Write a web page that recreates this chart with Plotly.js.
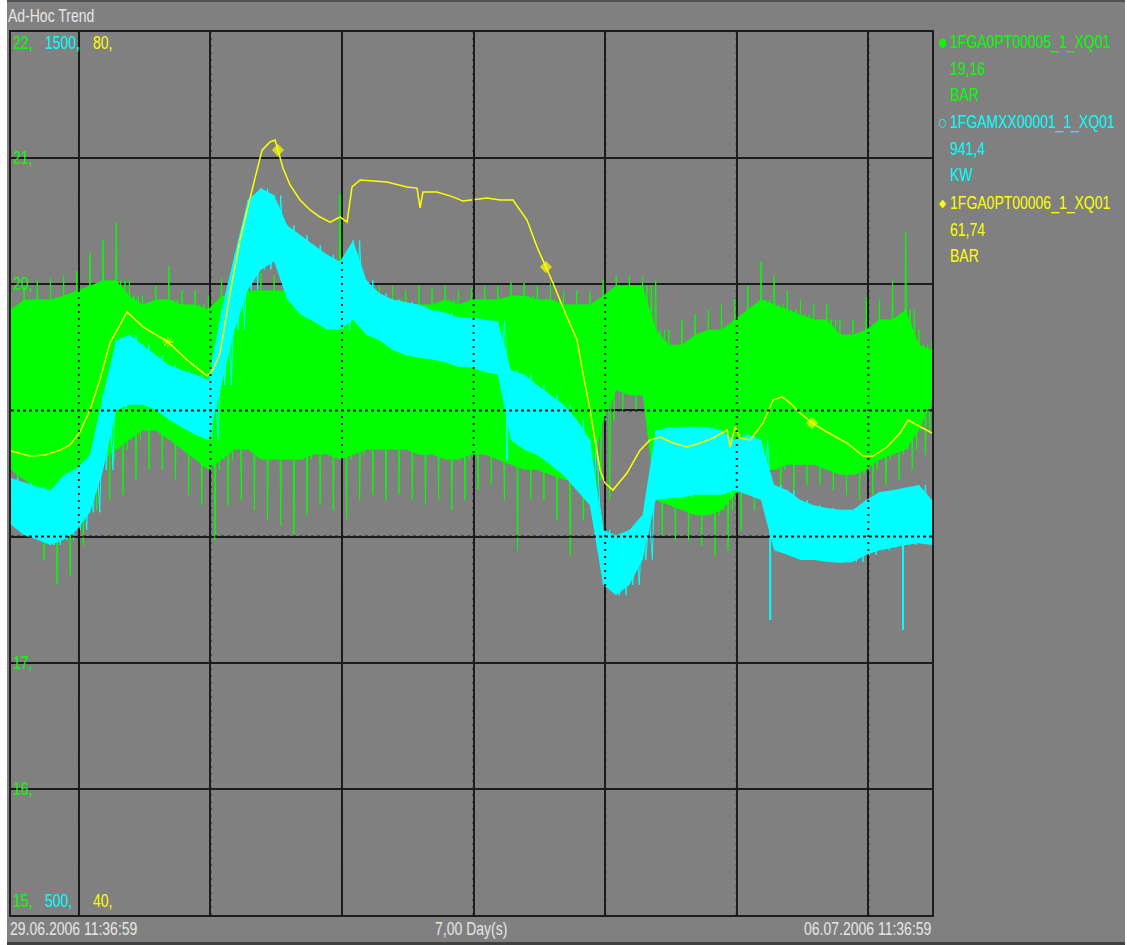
<!DOCTYPE html>
<html>
<head>
<meta charset="utf-8">
<script src="https://cdn.plot.ly/plotly-3.0.1.min.js"></script>
<style>
html,body{margin:0;padding:0;background:#808080;}
#chart{width:1127px;height:945px;}
#chart .annotation-text, #chart .gtitle{transform-box:fill-box;transform-origin:50% 50%;transform:scaleY(1.25);}
</style>
</head>
<body>
<div id="chart"></div>
<script>
// Time in days since 29.06.2006 11:36:59; samples every 0.1 day
const SAMPLE_STEP = 0.1;
// 1FGA0PT00005_1_XQ01 (BAR): spike extremes and dense core band
const greenMax = [19.93,19.99,20.03,20.05,20.07,20.11,20.25,20.35,20.49,20.03,
  19.91,19.99,20.14,19.95,19.95,19.91,20.05,20.03,20.07,20.09,
  20.07,20.03,20.03,20.05,20.19,20.72,20.06,20.01,19.99,19.99,
  19.95,19.99,19.97,19.99,19.95,19.97,19.99,19.99,20.02,20.01,
  19.99,20.01,19.95,19.95,19.94,20.03,20.07,20.07,20.06,20.03,
  19.64,19.72,19.76,19.80,19.84,19.88,19.99,20.18,20.07,19.95,
  19.88,19.84,19.84,19.72,19.72,19.90,19.88,20.03,20.41,19.64,
  19.56];
const greenHi = [19.80,19.88,19.88,19.88,19.91,19.95,19.99,20.03,20.03,19.91,
  19.84,19.88,19.88,19.84,19.84,19.80,19.91,19.91,19.95,19.95,
  19.95,19.95,19.95,19.95,19.99,20.03,19.95,19.91,19.88,19.88,
  19.84,19.84,19.84,19.88,19.84,19.88,19.88,19.88,19.91,19.91,
  19.88,19.88,19.84,19.84,19.84,19.91,19.99,19.99,19.99,19.64,
  19.52,19.52,19.60,19.64,19.64,19.72,19.80,19.88,19.84,19.80,
  19.76,19.72,19.72,19.60,19.60,19.64,19.72,19.72,19.80,19.52,
  19.48];
const greenLo = [18.53,18.45,18.37,18.21,18.29,18.45,18.53,18.61,18.69,18.77,
  18.84,18.84,18.77,18.69,18.61,18.53,18.61,18.69,18.69,18.61,
  18.61,18.61,18.61,18.65,18.65,18.61,18.65,18.69,18.69,18.69,
  18.69,18.65,18.65,18.61,18.61,18.65,18.65,18.61,18.57,18.53,
  18.53,18.49,18.45,18.45,18.45,18.92,19.16,19.12,19.12,18.29,
  18.25,18.21,18.17,18.17,18.21,18.33,18.45,18.53,18.53,18.57,
  18.57,18.57,18.53,18.49,18.49,18.53,18.61,18.65,18.69,18.84,
  19.08];
const greenMin = [18.13,18.01,17.81,17.62,17.69,17.93,18.21,18.29,18.33,18.45,
  18.53,18.53,18.45,18.33,18.25,17.97,18.25,18.29,18.21,18.13,
  18.09,18.01,18.17,18.25,18.21,18.13,18.29,18.33,18.29,18.33,
  18.29,18.25,18.29,18.21,18.29,18.37,18.41,18.29,17.89,18.29,
  18.29,18.13,17.85,18.13,17.97,18.29,19.00,19.00,19.00,18.01,
  17.97,17.97,17.93,17.85,17.89,18.05,18.21,18.29,18.13,18.37,
  18.41,18.41,18.37,18.33,18.29,18.33,18.41,18.45,18.53,18.65,
  18.92];
// 1FGAMXX00001_1_XQ01 (KW): band top / bottom
const cyanHi = [995,990,985,981,998,1006,1021,1089,1151,1157,
  1146,1134,1123,1117,1112,1106,1185,1248,1310,1323,
  1315,1281,1270,1259,1248,1240,1264,1219,1204,1197,
  1194,1191,1185,1182,1177,1176,1174,1172,1117,1112,
  1100,1089,1078,1061,1038,936,930,936,953,1049,
  1052,1053,1053,1052,1049,1038,1044,1038,987,981,
  970,964,961,959,959,970,979,981,984,987,
  970];
const cyanLo = [942,930,925,919,925,936,956,1004,1072,1078,
  1078,1072,1061,1052,1044,1038,1100,1163,1208,1231,
  1240,1197,1180,1172,1163,1163,1174,1157,1151,1140,
  1134,1131,1129,1126,1121,1120,1115,1112,1038,1027,
  1021,1010,998,981,964,874,862,874,902,970,
  972,973,976,976,976,981,976,970,913,908,
  902,902,900,899,900,908,913,916,919,921,
  919];
const cyanDipT = [3.77, 5.77, 6.78];
const cyanDipFrom = [1110, 1000, 975];
const cyanDipTo = [1015, 834, 823];
const cyanMarkT = [1.885];
const cyanMarkV = [1236];
// 1FGA0PT00006_1_XQ01 (BAR)
const yellowT = [0,0.144,0.258,0.372,0.448,0.524,0.600,0.676,0.752,0.882,
  1.003,1.079,1.193,1.338,1.490,1.535,1.589,1.665,1.741,1.817,
  1.908,1.969,2.007,2.029,2.067,2.121,2.197,2.273,2.349,2.425,
  2.501,2.554,2.592,2.653,2.751,2.858,3.010,3.086,3.109,3.131,
  3.238,3.359,3.435,3.511,3.618,3.717,3.815,3.922,3.998,4.066,
  4.119,4.226,4.302,4.347,4.401,4.477,4.515,4.575,4.682,4.781,
  4.857,4.933,5.031,5.138,5.237,5.336,5.442,5.465,5.503,5.541,
  5.617,5.716,5.792,5.860,5.921,5.997,6.088,6.202,6.354,6.476,
  6.552,6.658,6.757,6.818,6.886,7.000];
const yellowV = [61.02,60.79,60.84,61.06,61.29,61.88,62.88,64.24,65.91,67.32,
  66.64,66.37,65.96,65.14,64.42,64.69,65.46,68.18,70.58,72.48,
  74.65,75.02,75.11,74.65,73.84,73.07,72.39,71.94,71.62,71.39,
  71.62,71.39,72.98,73.30,73.25,73.20,72.98,72.93,72.03,72.75,
  72.75,72.53,72.34,72.39,72.48,72.39,72.39,71.48,70.26,69.35,
  68.63,67.09,66.05,64.55,62.88,60.16,59.57,59.25,60.02,61.06,
  61.52,61.65,61.38,61.20,61.38,61.61,61.97,61.20,62.11,61.61,
  61.52,62.29,63.33,63.47,63.19,62.74,62.29,61.88,61.38,60.79,
  60.79,61.20,61.83,62.42,62.20,61.83];
const yellowMarkT = [1.193, 2.029, 4.066, 6.088];
const yellowMarkV = [65.96, 74.65, 69.35, 62.29];

// Text
const tagNames = ['1FGA0PT00005_1_XQ01','1FGAMXX00001_1_XQ01','1FGA0PT00006_1_XQ01'];
const tagValues = ['19,16','941,4','61,74'];
const tagUnits = ['BAR','KW','BAR'];
const scaleTop = ['22,','1500,','80,'];
const scaleBottom = ['15,','500,','40,'];
const greenGridLabels = [21, 20, 17, 16];
const startLabel = '29.06.2006 11:36:59';
const endLabel = '06.07.2006 11:36:59';
const spanLabel = '7,00 Day(s)';
const startSecondsOfDay = 11*3600 + 36*60 + 59;

// ---- Build ----
const GREEN = '#00ff00', CYAN = '#00ffff', YELLOW = '#ffff00';
const BG = '#808080', GRID = '#1c1c1c', TXT = '#e6e6e6';
const FONT = '"Liberation Sans", Arial, sans-serif';
const FS = 14;

const t = greenMax.map((_, i) => i * SAMPLE_STEP);

function band(hi, lo) {
  return { x: t.concat(t.slice().reverse()), y: hi.concat(lo.slice().reverse()) };
}
// each sample drawn as near-vertical strokes between its read extremes
function strokes(pattern) {
  const xs = [], ys = [];
  for (let i = 0; i < t.length; i++) {
    pattern.forEach((s, k) => { xs.push(t[i] + k * SAMPLE_STEP / pattern.length); ys.push(s[i]); });
  }
  return { x: xs, y: ys };
}

const gBand = band(greenHi, greenLo);
const gZig = strokes([greenMax, greenLo, greenHi, greenMin, greenHi, greenLo]);
const cBand = band(cyanHi, cyanLo);
const cZig = strokes([cyanHi, cyanLo, cyanHi, cyanLo]);

const dipX = [], dipY = [];
cyanDipT.forEach((d, i) => { dipX.push(d, d, null); dipY.push(cyanDipFrom[i], cyanDipTo[i], null); });

const traces = [
  { x: gBand.x, y: gBand.y, fill: 'toself', fillcolor: GREEN, line: { width: 0 }, mode: 'lines', yaxis: 'y', hoverinfo: 'skip' },
  { x: gZig.x, y: gZig.y, mode: 'lines', line: { color: GREEN, width: 1 }, yaxis: 'y', hoverinfo: 'skip' },
  { x: cBand.x, y: cBand.y, fill: 'toself', fillcolor: CYAN, line: { width: 0 }, mode: 'lines', yaxis: 'y2', hoverinfo: 'skip' },
  { x: cZig.x, y: cZig.y, mode: 'lines', line: { color: CYAN, width: 1 }, yaxis: 'y2', hoverinfo: 'skip' },
  { x: dipX, y: dipY, mode: 'lines', line: { color: CYAN, width: 2 }, yaxis: 'y2', hoverinfo: 'skip' },
  { x: cyanMarkT, y: cyanMarkV, mode: 'markers', marker: { symbol: 'circle-open', size: 6, color: CYAN, line: { width: 1 } }, yaxis: 'y2' },
  { x: yellowT, y: yellowV, mode: 'lines', line: { color: YELLOW, width: 1.5 }, yaxis: 'y3', hoverinfo: 'skip' },
  { x: yellowMarkT, y: yellowMarkV, mode: 'markers', yaxis: 'y3',
    marker: { symbol: ['asterisk-open','diamond','diamond','diamond'], size: [9,8,8,8], color: YELLOW, line: { color: YELLOW, width: 1.2 } } }
];

// pixel helpers for text placement (plot area: x 11..932, y 32..915)
const PL = 11, PR = 932, PT = 32, PB = 915;
const px = x => (x - PL) / (PR - PL);
const py = y => (PB - y) / (PB - PT);
function txt(x, y, text, color, anchor, size, fam) {
  return { xref: 'paper', yref: 'paper', x: px(x), y: py(y), text: text, showarrow: false,
    xanchor: anchor || 'left', yanchor: 'middle', font: { family: fam || FONT, size: size || FS, color: color } };
}

const ann = [];
const scaleCols = [GREEN, CYAN, YELLOW];
const scaleX = [11, 43, 91];
scaleTop.forEach((s, i) => ann.push(txt(scaleX[i], 43, s, scaleCols[i])));
scaleBottom.forEach((s, i) => ann.push(txt(scaleX[i], 901, s, scaleCols[i])));
greenGridLabels.forEach(v => ann.push({ xref: 'paper', yref: 'y', x: px(11), y: v, text: v + ',', showarrow: false,
  xanchor: 'left', yanchor: 'middle', font: { family: FONT, size: FS, color: GREEN } }));
ann.push(txt(8, 929, startLabel, TXT));
ann.push(txt(471, 929, spanLabel, TXT, 'center'));
ann.push(txt(934, 929, endLabel, TXT, 'right'));
const legY = [42, 122, 203];
const markChars = ['\u25CF', '\u25CB', '\u25C6'];
tagNames.forEach((n, i) => {
  const y0 = legY[i];
  ann.push(txt(937, y0, markChars[i], scaleCols[i], 'left', 9, 'DejaVu Sans'));
  ann.push(txt(948, y0, n, scaleCols[i]));
  ann.push(txt(948, y0 + 27, tagValues[i], scaleCols[i]));
  ann.push(txt(948, y0 + 53, tagUnits[i], scaleCols[i]));
});

const firstMidnight = (86400 - startSecondsOfDay) / 86400;
const midnights = [0,1,2,3,4,5,6].map(k => firstMidnight + k);

const shapes = [
  { type: 'rect', xref: 'paper', yref: 'paper', x0: px(0), x1: px(7), y0: py(945), y1: py(0), fillcolor: '#ffffff', line: { width: 0 }, layer: 'above' },
  { type: 'rect', xref: 'paper', yref: 'paper', x0: px(1125), x1: px(1127), y0: py(945), y1: py(0), fillcolor: '#ffffff', line: { width: 0 }, layer: 'above' },
  { type: 'line', xref: 'paper', yref: 'paper', x0: px(7), x1: px(1125), y0: py(943.5), y1: py(943.5), line: { color: '#404040', width: 3 } },
  { type: 'line', xref: 'paper', yref: 'paper', x0: px(7), x1: px(1125), y0: py(1), y1: py(1), line: { color: '#505050', width: 2 } }
];
// grid showing through the gaps of the dense traces
[18, 19].forEach(v => shapes.push({ type: 'line', xref: 'paper', yref: 'y', x0: 0, x1: 1, y0: v, y1: v,
  line: { color: GRID, width: 2, dash: 'dot' }, layer: 'above' }));
midnights.forEach(m => shapes.push({ type: 'line', xref: 'x', yref: 'paper', x0: m, x1: m, y0: 0, y1: 1,
  line: { color: GRID, width: 2, dash: '2px,5px' }, layer: 'above' }));

const layout = {
  width: 1127, height: 945,
  paper_bgcolor: BG, plot_bgcolor: BG,
  margin: { l: PL, r: 1127 - PR, t: PT, b: 945 - PB, pad: 0 },
  showlegend: false,
  title: { text: 'Ad-Hoc Trend', x: 8 / 1127, y: 1 - 16 / 945, xanchor: 'left', yanchor: 'middle', xref: 'container', yref: 'container',
    font: { family: FONT, size: FS, color: TXT } },
  xaxis: { range: [0, 7], tickmode: 'array', tickvals: midnights, showticklabels: false, ticks: '',
    showgrid: true, gridcolor: GRID, gridwidth: 2, zeroline: false, showline: true, mirror: true, linecolor: GRID, linewidth: 2, fixedrange: true },
  yaxis: { range: [15, 22], tickmode: 'linear', tick0: 15, dtick: 1, showticklabels: false, ticks: '',
    showgrid: true, gridcolor: GRID, gridwidth: 2, zeroline: false, showline: true, mirror: true, linecolor: GRID, linewidth: 2, fixedrange: true },
  yaxis2: { range: [500, 1500], overlaying: 'y', visible: false, showgrid: false, zeroline: false, fixedrange: true },
  yaxis3: { range: [40, 80], overlaying: 'y', visible: false, showgrid: false, zeroline: false, fixedrange: true },
  annotations: ann,
  shapes: shapes
};

Plotly.newPlot('chart', traces, layout, { displayModeBar: false, staticPlot: true });
</script>
</body>
</html>
